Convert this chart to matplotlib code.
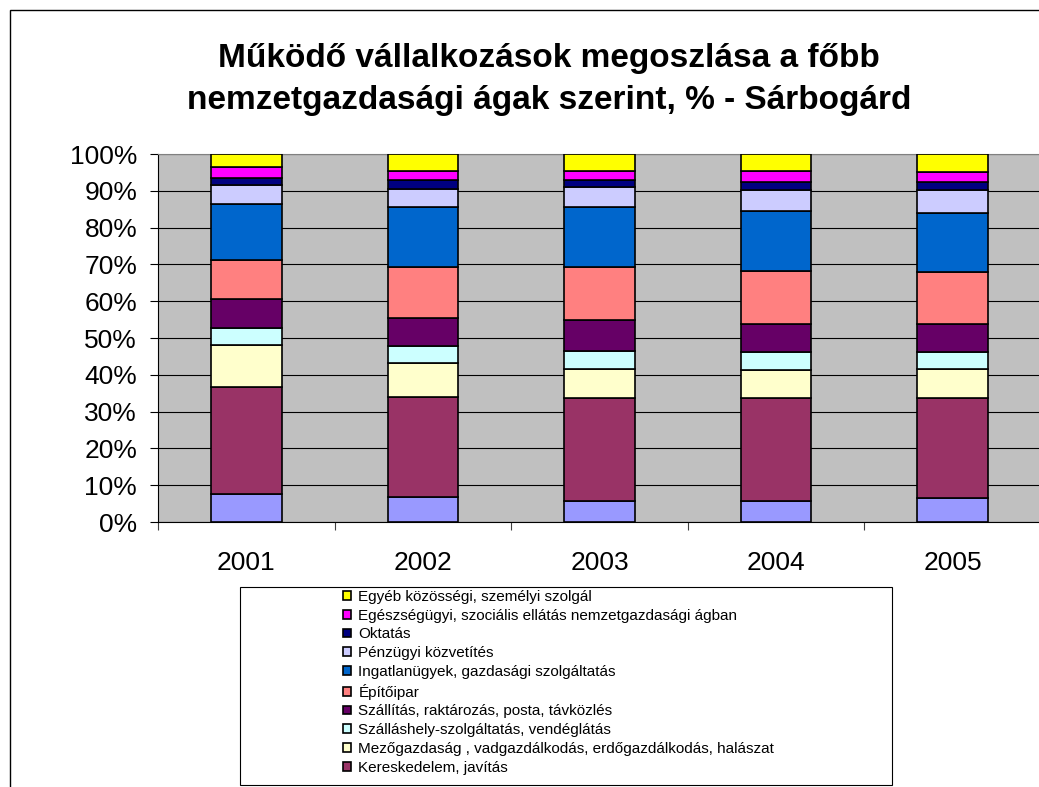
import numpy as np
import matplotlib.pyplot as plt
import matplotlib.patches as patches

plt.rcParams['font.family'] = ['Liberation Sans', 'DejaVu Sans']

# data, percent of enterprises per year
years = ['2001', '2002', '2003', '2004', '2005']
ipar         = [7.5, 6.9, 5.8, 5.8, 6.4]   # bottom series, legend entry cut off
kereskedelem = [29.3, 27.2, 27.8, 27.8, 27.2]
mezogazdasag = [11.4, 9.2, 8.1, 7.7, 8.1]
szallashely  = [4.4, 4.4, 4.9, 4.8, 4.4]
szallitas    = [8.1, 7.6, 8.2, 7.6, 7.6]
epitoipar    = [10.4, 14.1, 14.6, 14.6, 14.1]
ingatlan     = [15.3, 16.1, 16.3, 16.3, 16.3]
penzugyi     = [5.3, 5.1, 5.2, 5.5, 6.0]
oktatas      = [1.9, 2.2, 2.0, 2.2, 2.2]
egeszsegugyi = [3.0, 2.7, 2.6, 3.2, 2.7]
egyeb        = [3.4, 4.5, 4.5, 4.5, 5.0]

# stacking order bottom -> top
series = [ipar, kereskedelem, mezogazdasag, szallashely, szallitas,
          epitoipar, ingatlan, penzugyi, oktatas, egeszsegugyi, egyeb]
labels = ['Ipar',
          'Kereskedelem, javítás',
          'Mezőgazdaság , vadgazdálkodás, erdőgazdálkodás, halászat',
          'Szálláshely-szolgáltatás, vendéglátás',
          'Szállítás, raktározás, posta, távközlés',
          'Építőipar',
          'Ingatlanügyek, gazdasági szolgáltatás',
          'Pénzügyi közvetítés',
          'Oktatás',
          'Egészségügyi, szociális ellátás nemzetgazdasági ágban',
          'Egyéb közösségi, személyi szolgál']
colors = ['#9999FF', '#993366', '#FFFFCC', '#CCFFFF', '#660066',
          '#FF8080', '#0066CC', '#CCCCFF', '#000080', '#FF00FF', '#FFFF00']

W, H = 1039, 787
fig = plt.figure(figsize=(W/100, H/100), dpi=100)

# chart area border (runs off the right/bottom edge)
fig.patches.append(patches.Rectangle((10/W, -0.1), 1.2, 1 - 10/H + 0.1, transform=fig.transFigure,
                                     fill=False, edgecolor='black', lw=1.0))

ax = fig.add_axes([158/W, (H-522)/H, 883/W, (522-154)/H])
ax.set_facecolor('#C0C0C0')

x = np.arange(len(years))
bottom = np.zeros(len(years))
bars = []
for vals, lab, col in zip(series, labels, colors):
    b = ax.bar(x, vals, 0.4, bottom=bottom, color=col, edgecolor='black', lw=1.2, label=lab, zorder=3)
    bars.append(b)
    bottom += np.array(vals)

ax.set_xlim(-0.5, 4.5)
ax.set_ylim(0, 100)
ax.set_yticks(range(0, 101, 10))
ax.set_yticklabels([f'{v}%' for v in range(0, 101, 10)], fontsize=19)
ax.yaxis.grid(True, color='black', lw=0.8, zorder=1)
ax.set_axisbelow(True)
ax.tick_params(axis='y', direction='out', length=6, width=0.8, pad=9)

# category boundary ticks, labels in the middle
ax.set_xticks(np.arange(-0.5, 5, 1))
ax.set_xticklabels([])
ax.set_xticks(x, minor=True)
ax.set_xticklabels(years, minor=True, fontsize=19)
ax.tick_params(axis='x', which='major', direction='out', length=6, width=0.8, color='#404040')
ax.tick_params(axis='x', which='minor', length=0, pad=21)

for s in ['top', 'right']:
    ax.spines[s].set_color('#808080')
for s in ['left', 'bottom']:
    ax.spines[s].set_color('black')

# title, two lines
fig.text(549/W, 1 - 67/H, 'Működő vállalkozások megoszlása a főbb', ha='center', va='baseline',
         fontsize=24, fontweight='bold')
fig.text(549/W, 1 - 109/H, 'nemzetgazdasági ágak szerint, % - Sárbogárd', ha='center', va='baseline',
         fontsize=24, fontweight='bold')

# legend box + entries (top series first, last entry cut off like the original)
fig.patches.append(patches.Rectangle((240/W, (H-785)/H), 652/W, (785-587)/H, transform=fig.transFigure,
                                     facecolor='white', edgecolor='black', lw=0.8, zorder=5))
handles = [bars[i] for i in range(len(bars)-1, 0, -1)]
leg_labels = [labels[i] for i in range(len(labels)-1, 0, -1)]
leg = fig.legend(handles, leg_labels, loc='upper left', bbox_to_anchor=(343/W, 1 - 590/H),
                 frameon=False, fontsize=11, handlelength=0.5, handleheight=0.5,
                 handletextpad=0.5, labelspacing=0.31, borderpad=0, borderaxespad=0)
leg.set_zorder(6)

fig.savefig('out.png', dpi=100)
